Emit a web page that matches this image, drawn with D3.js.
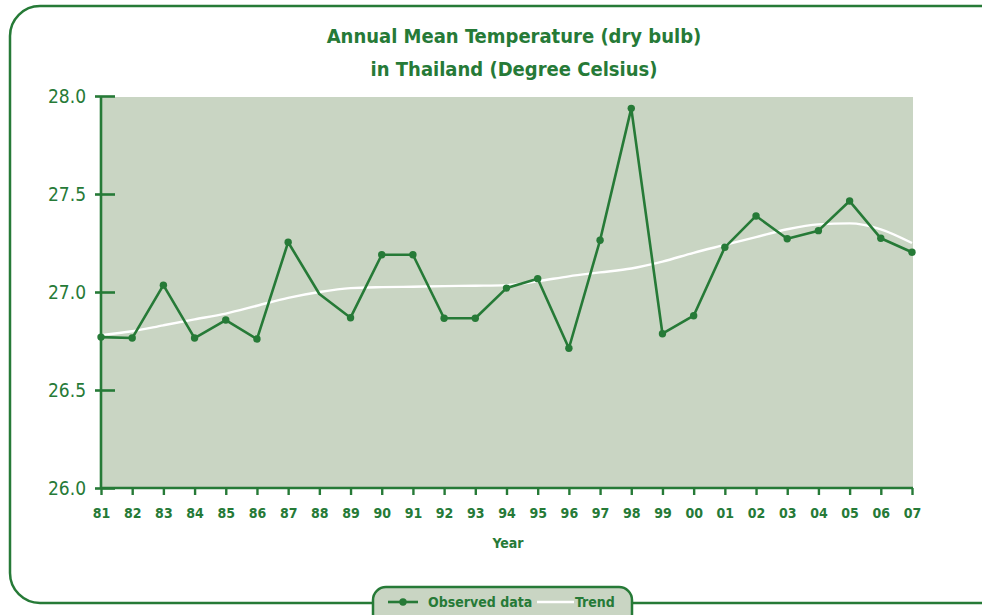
<!DOCTYPE html>
<meta charset="utf-8">
<style>
  body { margin: 0; background: #fff; }
  svg text { font-family: "DejaVu Sans Condensed", "Roboto", sans-serif; }
</style>
<script src="https://cdn.jsdelivr.net/npm/d3@7"></script>
<div id="chart"></div>
<script>
// years on the x axis
const years = ["81","82","83","84","85","86","87","88","89","90","91","92","93","94",
               "95","96","97","98","99","00","01","02","03","04","05","06","07"];
// observed annual mean temperature
const observed = [26.77, 26.765, 27.035, 26.765, 26.857, 26.76, 27.254, 26.99, 26.869, 27.19,
                  27.19, 26.866, 26.866, 27.02, 27.068, 26.713, 27.264, 27.937, 26.787, 26.879,
                  27.228, 27.388, 27.272, 27.313, 27.464, 27.274, 27.203];
// years drawn without a dot
const noDot = ["88"];
// trend curve
const trend = [26.78, 26.80, 26.83, 26.86, 26.89, 26.93, 26.97, 27.00, 27.02, 27.025,
               27.027, 27.03, 27.032, 27.035, 27.055, 27.08, 27.10, 27.12, 27.155, 27.20,
               27.24, 27.28, 27.32, 27.345, 27.35, 27.32, 27.25];
const yTicks = [26.0, 26.5, 27.0, 27.5, 28.0];

const green = "#267a37", bg = "#c9d5c3";
const W = 982, H = 615;

const obsData = years.map((yr, i) => ({ year: yr, value: observed[i] }));

const svg = d3.select("#chart").append("svg")
    .attr("width", W).attr("height", H);

// outer frame
svg.append("rect")
    .attr("x", 10).attr("y", 6).attr("width", 1000).attr("height", 597)
    .attr("rx", 30).attr("ry", 30)
    .attr("fill", "none").attr("stroke", green).attr("stroke-width", 2.5);

// title
svg.append("text").attr("x", 514).attr("y", 43).attr("text-anchor", "middle")
    .attr("font-size", 20).attr("font-weight", "bold").attr("fill", green)
    .text("Annual Mean Temperature (dry bulb)");
svg.append("text").attr("x", 514).attr("y", 76).attr("text-anchor", "middle")
    .attr("font-size", 20).attr("font-weight", "bold").attr("fill", green)
    .text("in Thailand (Degree Celsius)");

const x = d3.scalePoint().domain(years).range([101, 912]);
const y = d3.scaleLinear().domain([26, 28]).range([488, 96]);

// plot background
svg.append("rect")
    .attr("x", x(years[0])).attr("y", y(28) + 1)
    .attr("width", x(years[years.length - 1]) - x(years[0]) + 1)
    .attr("height", y(26) - y(28) - 1)
    .attr("fill", bg);

// trend line
svg.append("path")
    .datum(trend)
    .attr("fill", "none").attr("stroke", "#fff").attr("stroke-width", 2.4)
    .attr("d", d3.line().x((d, i) => x(years[i])).y(d => y(d)).curve(d3.curveMonotoneX));

// observed line
svg.append("path")
    .datum(obsData)
    .attr("fill", "none").attr("stroke", green).attr("stroke-width", 2.6)
    .attr("stroke-linejoin", "round")
    .attr("d", d3.line().x(d => x(d.year)).y(d => y(d.value)));

svg.selectAll("circle.obs")
    .data(obsData.filter(d => !noDot.includes(d.year)))
    .enter().append("circle")
    .attr("class", "obs")
    .attr("cx", d => x(d.year)).attr("cy", d => y(d.value))
    .attr("r", 3.7).attr("fill", green);

// y axis
const yAxis = svg.append("g")
    .attr("transform", `translate(${x(years[0])},0)`)
    .call(d3.axisLeft(y).tickValues(yTicks).tickFormat(d3.format(".1f"))
        .tickSize(6).tickPadding(9));
yAxis.select(".domain").attr("stroke", green).attr("stroke-width", 2.6)
    .attr("d", `M0,${y(28)}V${y(26)}`);
yAxis.selectAll(".tick line").attr("stroke", green).attr("stroke-width", 2.6)
    .attr("x1", -6).attr("x2", 14);
yAxis.selectAll(".tick text").attr("fill", green).attr("font-size", 19)
    .attr("font-family", "Roboto, sans-serif").attr("font-weight", 500)
    .attr("x", -15);

// x axis
const xAxis = svg.append("g")
    .attr("transform", `translate(0,${y(26)})`)
    .call(d3.axisBottom(x).tickSize(7).tickPadding(13));
xAxis.select(".domain").attr("stroke", green).attr("stroke-width", 2.6)
    .attr("d", `M${x(years[0])},0H${x(years[years.length - 1]) + 1}`);
xAxis.selectAll(".tick line").attr("stroke", green).attr("stroke-width", 2.4);
xAxis.selectAll(".tick text").attr("fill", green).attr("font-size", 14)
    .attr("font-family", "Roboto, sans-serif").attr("font-weight", "bold");

svg.append("text").attr("x", 508).attr("y", 548).attr("text-anchor", "middle")
    .attr("font-size", 14).attr("font-family", "Roboto, sans-serif").attr("font-weight", "bold")
    .attr("fill", green).text("Year");

// legend
const lg = svg.append("g");
lg.append("rect")
    .attr("x", 373).attr("y", 587).attr("width", 259).attr("height", 40)
    .attr("rx", 13).attr("ry", 13)
    .attr("fill", bg).attr("stroke", green).attr("stroke-width", 2.5);
lg.append("line").attr("x1", 388).attr("x2", 418).attr("y1", 602).attr("y2", 602)
    .attr("stroke", green).attr("stroke-width", 2.6);
lg.append("circle").attr("cx", 403).attr("cy", 602).attr("r", 3.7).attr("fill", green);
lg.append("text").attr("x", 428).attr("y", 607).attr("font-size", 14)
    .attr("font-family", "Roboto, sans-serif").attr("font-weight", "bold")
    .attr("fill", green).text("Observed data");
lg.append("line").attr("x1", 537).attr("x2", 574).attr("y1", 602).attr("y2", 602)
    .attr("stroke", "#fff").attr("stroke-width", 2.4);
lg.append("text").attr("x", 575).attr("y", 607).attr("font-size", 14)
    .attr("font-family", "Roboto, sans-serif").attr("font-weight", "bold")
    .attr("fill", green).text("Trend");
</script>
